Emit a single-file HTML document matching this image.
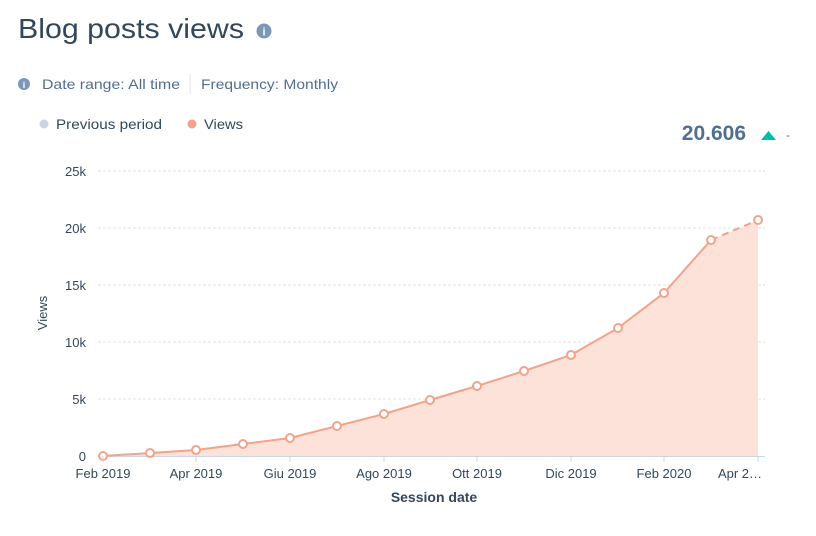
<!DOCTYPE html><html><head><style>
body{margin:0;background:#fff;font-family:"Liberation Sans",sans-serif;}
</style></head><body>
<svg width="816" height="531" xmlns="http://www.w3.org/2000/svg" font-family="Liberation Sans, sans-serif">
<text x="18" y="38" font-size="28" fill="#33475b" textLength="226" lengthAdjust="spacingAndGlyphs">Blog posts views</text>
<circle cx="264" cy="31" r="7.5" fill="#7c98b6"/><text x="264" y="35.5" font-size="11" font-weight="bold" fill="#fff" text-anchor="middle">i</text>
<circle cx="24" cy="84" r="6" fill="#7c98b6"/><text x="24" y="88" font-size="9" font-weight="bold" fill="#fff" text-anchor="middle">i</text>
<text x="42" y="89" font-size="14" fill="#516f90" textLength="138" lengthAdjust="spacingAndGlyphs">Date range: All time</text>
<line x1="190" y1="74" x2="190" y2="94" stroke="#dfe3eb"/>
<text x="201" y="89" font-size="14" fill="#516f90" textLength="137" lengthAdjust="spacingAndGlyphs">Frequency: Monthly</text>
<circle cx="44" cy="124" r="4.5" fill="#cbd6e2"/><text x="56" y="129" font-size="14" fill="#33475b" textLength="106" lengthAdjust="spacingAndGlyphs">Previous period</text>
<circle cx="192" cy="124" r="4.5" fill="#f2a38b"/><text x="204" y="129" font-size="14" fill="#33475b" textLength="39" lengthAdjust="spacingAndGlyphs">Views</text>
<text x="746" y="140" font-size="21" font-weight="bold" fill="#516f90" text-anchor="end">20.606</text>
<polygon points="761,140 776,140 768.5,131" fill="#00bda5"/>
<text x="786" y="139" font-size="12" fill="#516f90">-</text>
<g stroke="#dfe3eb" stroke-dasharray="3,2">
<line x1="98" y1="171" x2="765" y2="171"/><line x1="98" y1="228" x2="765" y2="228"/><line x1="98" y1="285" x2="765" y2="285"/><line x1="98" y1="342" x2="765" y2="342"/><line x1="98" y1="399" x2="765" y2="399"/>
</g>
<line x1="98" y1="456.5" x2="765" y2="456.5" stroke="#cbd6e2"/>
<g font-size="13" fill="#33475b" text-anchor="end">
<text x="86" y="176">25k</text><text x="86" y="233">20k</text><text x="86" y="290">15k</text><text x="86" y="347">10k</text><text x="86" y="404">5k</text><text x="86" y="461">0</text>
</g>
<text transform="translate(47,313) rotate(-90)" font-size="13" fill="#33475b" text-anchor="middle">Views</text>
<polygon fill="#fde2da" points="103,456 103,456 150,453 196,450 243,444 290,438 337,426 384,414 430,400 477,386 524,371 571,355 618,328 664,293 711,240 758,220 758,456"/>
<polyline fill="none" stroke="#f2a38b" stroke-width="2" points="103,456 150,453 196,450 243,444 290,438 337,426 384,414 430,400 477,386 524,371 571,355 618,328 664,293 711,240"/>
<line x1="711" y1="240" x2="758" y2="220" stroke="#f2a38b" stroke-width="2" stroke-dasharray="7,5"/>
<g fill="#fff" stroke="#f2a38b" stroke-width="2">
<circle cx="103" cy="456" r="4"/><circle cx="150" cy="453" r="4"/><circle cx="196" cy="450" r="4"/><circle cx="243" cy="444" r="4"/><circle cx="290" cy="438" r="4"/><circle cx="337" cy="426" r="4"/><circle cx="384" cy="414" r="4"/><circle cx="430" cy="400" r="4"/><circle cx="477" cy="386" r="4"/><circle cx="524" cy="371" r="4"/><circle cx="571" cy="355" r="4"/><circle cx="618" cy="328" r="4"/><circle cx="664" cy="293" r="4"/><circle cx="711" cy="240" r="4"/><circle cx="758" cy="220" r="4"/>
</g>
<g stroke="#cbd6e2"><line x1="103" y1="456" x2="103" y2="462"/><line x1="196" y1="456" x2="196" y2="462"/><line x1="290" y1="456" x2="290" y2="462"/><line x1="384" y1="456" x2="384" y2="462"/><line x1="477" y1="456" x2="477" y2="462"/><line x1="571" y1="456" x2="571" y2="462"/><line x1="664" y1="456" x2="664" y2="462"/><line x1="758" y1="456" x2="758" y2="462"/></g>
<g font-size="13" fill="#33475b" text-anchor="middle">
<text x="103" y="478">Feb 2019</text><text x="196" y="478">Apr 2019</text><text x="290" y="478">Giu 2019</text><text x="384" y="478">Ago 2019</text><text x="477" y="478">Ott 2019</text><text x="571" y="478">Dic 2019</text><text x="664" y="478">Feb 2020</text><text x="740" y="478">Apr 2…</text>
</g>
<text x="434" y="502" font-size="14" font-weight="bold" fill="#33475b" text-anchor="middle">Session date</text>
</svg>
</body></html>
